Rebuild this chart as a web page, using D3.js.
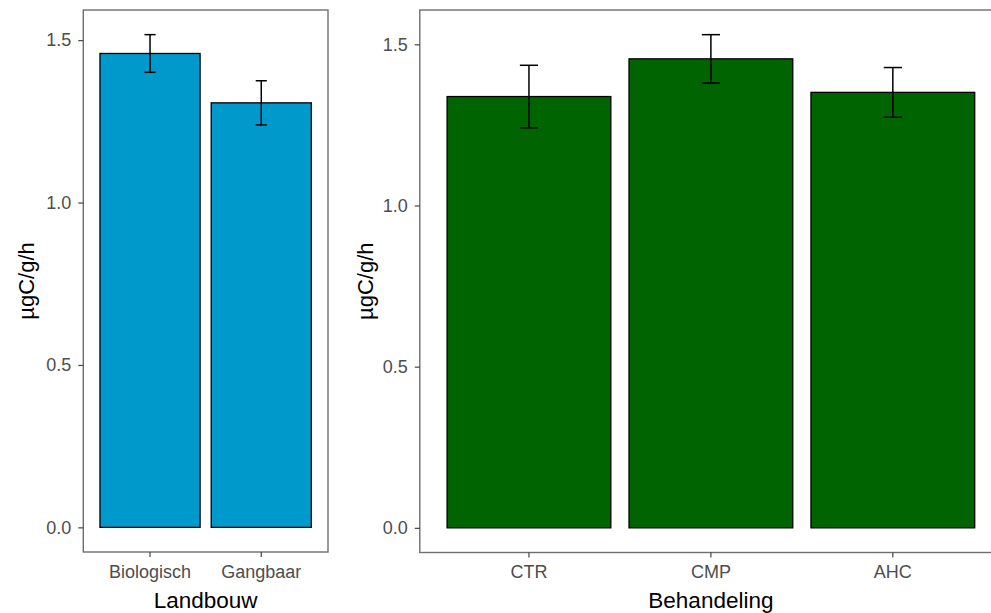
<!DOCTYPE html>
<html>
<head>
<meta charset="utf-8">
<script src="https://cdn.jsdelivr.net/npm/d3@7"></script>
<style>
  html, body { margin: 0; padding: 0; background: #fff; }
  svg { display: block; font-family: "Liberation Sans", Arial, sans-serif; }
</style>
</head>
<body>
<svg id="chart" width="991" height="613"></svg>
<script>
// ---- data ----
const landbouwCategories = ["Biologisch", "Gangbaar"];
const landbouwMeans = [1.459, 1.307];
const landbouwSE = [0.058, 0.068];

const behandelingCategories = ["CTR", "CMP", "AHC"];
const behandelingMeans = [1.338, 1.455, 1.351];
const behandelingSE = [0.097, 0.075, 0.077];

const yTickValues = [0.0, 0.5, 1.0, 1.5];
const yTitle = "µgC/g/h";
const landbouwTitle = "Landbouw";
const behandelingTitle = "Behandeling";

// ---- drawing ----
const svg = d3.select("#chart");

function panel(opts) {
  const { x0, x1, y0, y1, cats, means, se, fill, xTitle, yTitleX } = opts;
  const g = svg.append("g");
  const maxV = d3.max(means.map((m, i) => m + se[i]));
  const y = d3.scaleLinear().domain([-0.05 * maxV, 1.05 * maxV]).range([y1, y0]);
  const x = d3.scaleBand().domain(cats).range([x0, x1]).paddingInner(0.1).paddingOuter(0.15);
  const step = x.step();

  // bars
  g.selectAll("rect.bar").data(cats).join("rect")
    .attr("class", "bar")
    .attr("x", d => x(d))
    .attr("width", x.bandwidth())
    .attr("y", (d, i) => y(means[i]))
    .attr("height", (d, i) => y(0) - y(means[i]))
    .attr("fill", fill)
    .attr("stroke", "#000")
    .attr("stroke-width", 1.3);

  // error bars
  const eb = g.selectAll("g.err").data(cats).join("g").attr("class", "err")
    .attr("stroke", "#000").attr("stroke-width", 1.5).attr("fill", "none");
  const cx = d => x(d) + x.bandwidth() / 2;
  const hw = step * 0.05;
  eb.append("line").attr("x1", cx).attr("x2", cx)
    .attr("y1", (d, i) => y(means[i] + se[i])).attr("y2", (d, i) => y(means[i] - se[i]));
  eb.append("line").attr("x1", d => cx(d) - hw).attr("x2", d => cx(d) + hw)
    .attr("y1", (d, i) => y(means[i] + se[i])).attr("y2", (d, i) => y(means[i] + se[i]));
  eb.append("line").attr("x1", d => cx(d) - hw).attr("x2", d => cx(d) + hw)
    .attr("y1", (d, i) => y(means[i] - se[i])).attr("y2", (d, i) => y(means[i] - se[i]));

  // panel border
  g.append("rect")
    .attr("x", x0).attr("y", y0).attr("width", x1 - x0).attr("height", y1 - y0)
    .attr("fill", "none").attr("stroke", "#6e6e6e").attr("stroke-width", 1.4);

  // y axis
  const ya = g.append("g").attr("transform", `translate(${x0},0)`)
    .call(d3.axisLeft(y).tickValues(yTickValues).tickFormat(d3.format(".1f")).tickSize(5).tickPadding(7));
  ya.select(".domain").remove();
  ya.selectAll(".tick line").attr("stroke", "#444").attr("stroke-width", 1.2);
  ya.selectAll(".tick text").attr("fill", "#4d4d4d").style("font-size", "18px")
    .style("font-family", "'Liberation Sans', Arial, sans-serif");

  // x axis
  const xa = g.append("g").attr("transform", `translate(0,${y1})`)
    .call(d3.axisBottom(x).tickSize(5).tickPadding(8));
  xa.select(".domain").remove();
  xa.selectAll(".tick line").attr("stroke", "#444").attr("stroke-width", 1.2);
  xa.selectAll(".tick text").attr("fill", "#4d4d4d").style("font-size", "18px")
    .style("font-family", "'Liberation Sans', Arial, sans-serif");

  // titles
  svg.append("text").attr("x", (x0 + x1) / 2).attr("y", 608)
    .attr("text-anchor", "middle").style("font-size", "22.5px").attr("fill", "#000")
    .text(xTitle);
  svg.append("text")
    .attr("transform", `translate(${yTitleX},${(y0 + y1) / 2}) rotate(-90)`)
    .attr("text-anchor", "middle").style("font-size", "22px").attr("fill", "#000")
    .text(yTitle);
}

panel({ x0: 83.3, x1: 328, y0: 10, y1: 552, cats: landbouwCategories, means: landbouwMeans,
        se: landbouwSE, fill: "#0099CC", xTitle: landbouwTitle, yTitleX: 34 });
panel({ x0: 419.8, x1: 1002, y0: 10, y1: 552.5, cats: behandelingCategories, means: behandelingMeans,
        se: behandelingSE, fill: "#006400", xTitle: behandelingTitle, yTitleX: 373 });
</script>
</body>
</html>
